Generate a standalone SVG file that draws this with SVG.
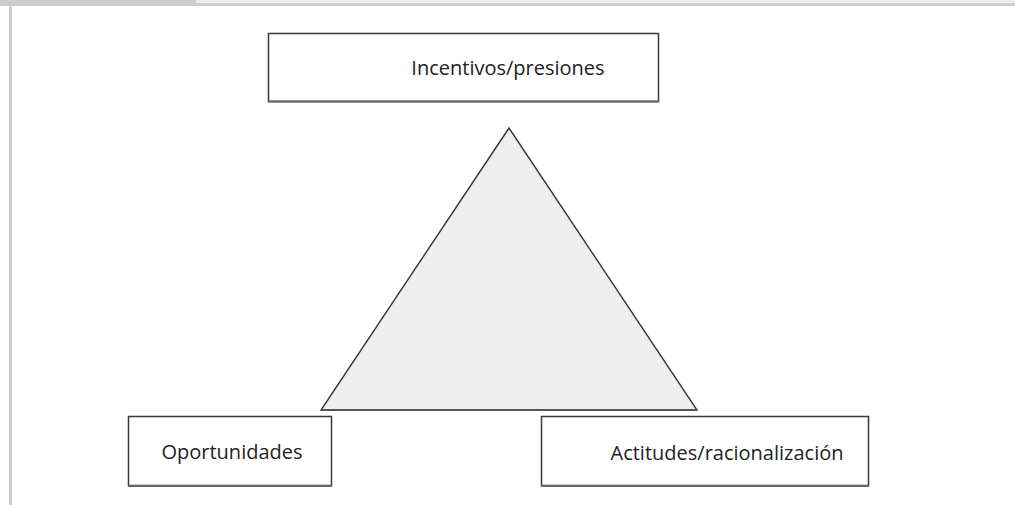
<svg xmlns="http://www.w3.org/2000/svg" width="1015" height="505" viewBox="0 0 1015 505">
<style>
.box{fill:#fff;stroke:#3a3a3a;stroke-width:1.5}
.lbl{font-family:"Open Sans","Noto Sans","Liberation Sans",sans-serif;font-size:20px;fill:#222;text-anchor:middle}
.frame{fill:#ccc}
</style>
<rect x="0" y="0" width="1015" height="505" fill="#fff"/>
<g id="frame">
<rect x="196" y="0" width="819" height="3" fill="#ececec"/>
<rect x="196" y="3" width="819" height="3" class="frame"/>
<rect x="0" y="0" width="196" height="6" class="frame"/>
<rect x="9" y="6" width="3" height="499" class="frame"/>
</g>
<g id="triangle">
<polygon points="509,128 321,410 697,410" fill="#eee" stroke="#333" stroke-width="1.4" stroke-linejoin="miter"/>
<line x1="321" y1="410" x2="697" y2="410" stroke="#555" stroke-width="2"/>
</g>
<g id="connectors"></g>
<g id="node-incentivos">
<rect class="box" x="268.5" y="33.5" width="390" height="68"/>
<line x1="268" y1="101.5" x2="659" y2="101.5" stroke="#666" stroke-width="2"/>
<text class="lbl" x="508" y="75">Incentivos/presiones</text>
</g>
<g id="node-oportunidades">
<rect class="box" x="128.5" y="416.5" width="203" height="69"/>
<line x1="128" y1="486" x2="332" y2="486" stroke="#666" stroke-width="2"/>
<text class="lbl" x="232" y="459">Oportunidades</text>
</g>
<g id="node-actitudes">
<rect class="box" x="541.5" y="416.5" width="327" height="69"/>
<line x1="541" y1="486" x2="869" y2="486" stroke="#666" stroke-width="2"/>
<text class="lbl" x="727" y="460">Actitudes/racionalización</text>
</g>
</svg>
